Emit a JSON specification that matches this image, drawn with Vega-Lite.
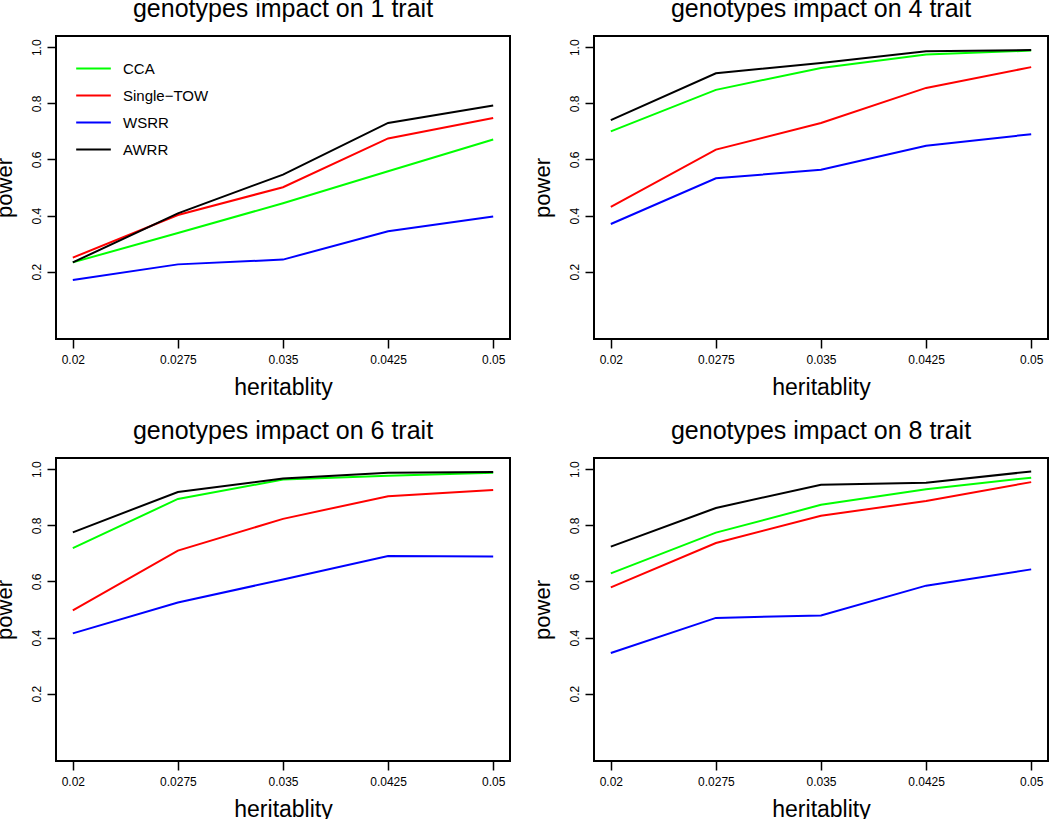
{
  "$schema": "https://vega.github.io/schema/vega-lite/v6.json",
  "padding": {"left": -8, "top": -4, "right": 0, "bottom": 0},
  "background": "white",
  "datasets": {
    "rows": [
      {"t": 1, "m": "CCA", "h": 0.02, "p": 0.233}, {"t": 1, "m": "CCA", "h": 0.0275, "p": 0.338}, {"t": 1, "m": "CCA", "h": 0.035, "p": 0.444}, {"t": 1, "m": "CCA", "h": 0.0425, "p": 0.558}, {"t": 1, "m": "CCA", "h": 0.05, "p": 0.671},
      {"t": 1, "m": "Single−TOW", "h": 0.02, "p": 0.250}, {"t": 1, "m": "Single−TOW", "h": 0.0275, "p": 0.402}, {"t": 1, "m": "Single−TOW", "h": 0.035, "p": 0.501}, {"t": 1, "m": "Single−TOW", "h": 0.0425, "p": 0.675}, {"t": 1, "m": "Single−TOW", "h": 0.05, "p": 0.748},
      {"t": 1, "m": "WSRR", "h": 0.02, "p": 0.170}, {"t": 1, "m": "WSRR", "h": 0.0275, "p": 0.226}, {"t": 1, "m": "WSRR", "h": 0.035, "p": 0.243}, {"t": 1, "m": "WSRR", "h": 0.0425, "p": 0.344}, {"t": 1, "m": "WSRR", "h": 0.05, "p": 0.397},
      {"t": 1, "m": "AWRR", "h": 0.02, "p": 0.233}, {"t": 1, "m": "AWRR", "h": 0.0275, "p": 0.408}, {"t": 1, "m": "AWRR", "h": 0.035, "p": 0.546}, {"t": 1, "m": "AWRR", "h": 0.0425, "p": 0.730}, {"t": 1, "m": "AWRR", "h": 0.05, "p": 0.792},

      {"t": 4, "m": "CCA", "h": 0.02, "p": 0.700}, {"t": 4, "m": "CCA", "h": 0.0275, "p": 0.848}, {"t": 4, "m": "CCA", "h": 0.035, "p": 0.926}, {"t": 4, "m": "CCA", "h": 0.0425, "p": 0.974}, {"t": 4, "m": "CCA", "h": 0.05, "p": 0.988},
      {"t": 4, "m": "Single−TOW", "h": 0.02, "p": 0.431}, {"t": 4, "m": "Single−TOW", "h": 0.0275, "p": 0.635}, {"t": 4, "m": "Single−TOW", "h": 0.035, "p": 0.730}, {"t": 4, "m": "Single−TOW", "h": 0.0425, "p": 0.855}, {"t": 4, "m": "Single−TOW", "h": 0.05, "p": 0.929},
      {"t": 4, "m": "WSRR", "h": 0.02, "p": 0.370}, {"t": 4, "m": "WSRR", "h": 0.0275, "p": 0.533}, {"t": 4, "m": "WSRR", "h": 0.035, "p": 0.563}, {"t": 4, "m": "WSRR", "h": 0.0425, "p": 0.649}, {"t": 4, "m": "WSRR", "h": 0.05, "p": 0.690},
      {"t": 4, "m": "AWRR", "h": 0.02, "p": 0.740}, {"t": 4, "m": "AWRR", "h": 0.0275, "p": 0.907}, {"t": 4, "m": "AWRR", "h": 0.035, "p": 0.944}, {"t": 4, "m": "AWRR", "h": 0.0425, "p": 0.986}, {"t": 4, "m": "AWRR", "h": 0.05, "p": 0.990},

      {"t": 6, "m": "CCA", "h": 0.02, "p": 0.719}, {"t": 6, "m": "CCA", "h": 0.0275, "p": 0.894}, {"t": 6, "m": "CCA", "h": 0.035, "p": 0.963}, {"t": 6, "m": "CCA", "h": 0.0425, "p": 0.977}, {"t": 6, "m": "CCA", "h": 0.05, "p": 0.987},
      {"t": 6, "m": "Single−TOW", "h": 0.02, "p": 0.497}, {"t": 6, "m": "Single−TOW", "h": 0.0275, "p": 0.710}, {"t": 6, "m": "Single−TOW", "h": 0.035, "p": 0.823}, {"t": 6, "m": "Single−TOW", "h": 0.0425, "p": 0.904}, {"t": 6, "m": "Single−TOW", "h": 0.05, "p": 0.926},
      {"t": 6, "m": "WSRR", "h": 0.02, "p": 0.415}, {"t": 6, "m": "WSRR", "h": 0.0275, "p": 0.525}, {"t": 6, "m": "WSRR", "h": 0.035, "p": 0.607}, {"t": 6, "m": "WSRR", "h": 0.0425, "p": 0.691}, {"t": 6, "m": "WSRR", "h": 0.05, "p": 0.689},
      {"t": 6, "m": "AWRR", "h": 0.02, "p": 0.775}, {"t": 6, "m": "AWRR", "h": 0.0275, "p": 0.919}, {"t": 6, "m": "AWRR", "h": 0.035, "p": 0.967}, {"t": 6, "m": "AWRR", "h": 0.0425, "p": 0.987}, {"t": 6, "m": "AWRR", "h": 0.05, "p": 0.990},

      {"t": 8, "m": "CCA", "h": 0.02, "p": 0.629}, {"t": 8, "m": "CCA", "h": 0.0275, "p": 0.774}, {"t": 8, "m": "CCA", "h": 0.035, "p": 0.873}, {"t": 8, "m": "CCA", "h": 0.0425, "p": 0.929}, {"t": 8, "m": "CCA", "h": 0.05, "p": 0.970},
      {"t": 8, "m": "Single−TOW", "h": 0.02, "p": 0.579}, {"t": 8, "m": "Single−TOW", "h": 0.0275, "p": 0.737}, {"t": 8, "m": "Single−TOW", "h": 0.035, "p": 0.834}, {"t": 8, "m": "Single−TOW", "h": 0.0425, "p": 0.887}, {"t": 8, "m": "Single−TOW", "h": 0.05, "p": 0.954},
      {"t": 8, "m": "WSRR", "h": 0.02, "p": 0.345}, {"t": 8, "m": "WSRR", "h": 0.0275, "p": 0.470}, {"t": 8, "m": "WSRR", "h": 0.035, "p": 0.479}, {"t": 8, "m": "WSRR", "h": 0.0425, "p": 0.585}, {"t": 8, "m": "WSRR", "h": 0.05, "p": 0.643},
      {"t": 8, "m": "AWRR", "h": 0.02, "p": 0.724}, {"t": 8, "m": "AWRR", "h": 0.0275, "p": 0.862}, {"t": 8, "m": "AWRR", "h": 0.035, "p": 0.945}, {"t": 8, "m": "AWRR", "h": 0.0425, "p": 0.952}, {"t": 8, "m": "AWRR", "h": 0.05, "p": 0.992}
    ]
  },
  "spacing": 18,
  "resolve": {"scale": {"color": "independent"}, "legend": {"color": "independent"}},
  "vconcat": [
    {
      "spacing": 19,
      "resolve": {"scale": {"color": "independent"}, "legend": {"color": "independent"}},
      "hconcat": [
        {
          "width": 454, "height": 303,
          "title": {"text": "genotypes impact on 1 trait"},
          "data": {"name": "rows"},
          "transform": [{"filter": "datum.t == 1"}],
          "mark": {"type": "line", "strokeWidth": 2},
          "encoding": {
            "x": {"field": "h", "type": "quantitative", "title": "heritablity", "scale": {"domain": [0.0188, 0.0512], "nice": false, "zero": false}, "axis": {"values": [0.02, 0.0275, 0.035, 0.0425, 0.05], "format": ".3~g"}},
            "y": {"field": "p", "type": "quantitative", "title": "power", "scale": {"domain": [-0.04, 1.04], "nice": false, "zero": false}, "axis": {"values": [0.2, 0.4, 0.6, 0.8, 1.0], "format": ".1f"}},
            "color": {"field": "m", "type": "nominal", "scale": {"domain": ["CCA", "Single−TOW", "WSRR", "AWRR"], "range": ["#00ff00", "#ff0000", "#0000ff", "#000000"]},
              "legend": {"orient": "none", "legendX": 19, "legendY": 14, "title": null, "symbolType": "M-1,0H1", "symbolSize": 1200, "symbolStrokeWidth": 2, "labelFontSize": 15, "labelOffset": 11, "rowPadding": -3, "padding": 0, "symbolOffset": 0, "labelColor": "black", "labelFont": "Liberation Sans"}}
          }
        },
        {
          "width": 454, "height": 303,
          "title": {"text": "genotypes impact on 4 trait"},
          "data": {"name": "rows"},
          "transform": [{"filter": "datum.t == 4"}],
          "mark": {"type": "line", "strokeWidth": 2},
          "encoding": {
            "x": {"field": "h", "type": "quantitative", "title": "heritablity", "scale": {"domain": [0.0188, 0.0512], "nice": false, "zero": false}, "axis": {"values": [0.02, 0.0275, 0.035, 0.0425, 0.05], "format": ".3~g"}},
            "y": {"field": "p", "type": "quantitative", "title": "power", "scale": {"domain": [-0.04, 1.04], "nice": false, "zero": false}, "axis": {"values": [0.2, 0.4, 0.6, 0.8, 1.0], "format": ".1f"}},
            "color": {"field": "m", "type": "nominal", "scale": {"domain": ["CCA", "Single−TOW", "WSRR", "AWRR"], "range": ["#00ff00", "#ff0000", "#0000ff", "#000000"]}, "legend": null}
          }
        }
      ]
    },
    {
      "spacing": 19,
      "resolve": {"scale": {"color": "independent"}, "legend": {"color": "independent"}},
      "hconcat": [
        {
          "width": 454, "height": 303,
          "title": {"text": "genotypes impact on 6 trait"},
          "data": {"name": "rows"},
          "transform": [{"filter": "datum.t == 6"}],
          "mark": {"type": "line", "strokeWidth": 2},
          "encoding": {
            "x": {"field": "h", "type": "quantitative", "title": "heritablity", "scale": {"domain": [0.0188, 0.0512], "nice": false, "zero": false}, "axis": {"values": [0.02, 0.0275, 0.035, 0.0425, 0.05], "format": ".3~g"}},
            "y": {"field": "p", "type": "quantitative", "title": "power", "scale": {"domain": [-0.04, 1.04], "nice": false, "zero": false}, "axis": {"values": [0.2, 0.4, 0.6, 0.8, 1.0], "format": ".1f"}},
            "color": {"field": "m", "type": "nominal", "scale": {"domain": ["CCA", "Single−TOW", "WSRR", "AWRR"], "range": ["#00ff00", "#ff0000", "#0000ff", "#000000"]}, "legend": null}
          }
        },
        {
          "width": 454, "height": 303,
          "title": {"text": "genotypes impact on 8 trait"},
          "data": {"name": "rows"},
          "transform": [{"filter": "datum.t == 8"}],
          "mark": {"type": "line", "strokeWidth": 2},
          "encoding": {
            "x": {"field": "h", "type": "quantitative", "title": "heritablity", "scale": {"domain": [0.0188, 0.0512], "nice": false, "zero": false}, "axis": {"values": [0.02, 0.0275, 0.035, 0.0425, 0.05], "format": ".3~g"}},
            "y": {"field": "p", "type": "quantitative", "title": "power", "scale": {"domain": [-0.04, 1.04], "nice": false, "zero": false}, "axis": {"values": [0.2, 0.4, 0.6, 0.8, 1.0], "format": ".1f"}},
            "color": {"field": "m", "type": "nominal", "scale": {"domain": ["CCA", "Single−TOW", "WSRR", "AWRR"], "range": ["#00ff00", "#ff0000", "#0000ff", "#000000"]}, "legend": null}
          }
        }
      ]
    }
  ],
  "config": {
    "font": "Liberation Sans",
    "view": {"stroke": "black", "strokeWidth": 2},
    "title": {"fontSize": 25, "fontWeight": "normal", "font": "Liberation Sans", "color": "black", "baseline": "alphabetic", "offset": 14},
    "axis": {"grid": false, "domain": false, "tickSize": 9, "tickColor": "black", "tickWidth": 1.5, "labelFontSize": 12, "labelColor": "black", "labelFont": "Liberation Sans", "titleFont": "Liberation Sans", "titleFontSize": 23, "titleFontWeight": "normal", "titleColor": "black"},
    "axisX": {"labelPadding": 6, "titlePadding": 11},
    "axisY": {"labelAngle": 270, "labelAlign": "center", "labelBaseline": "bottom", "labelPadding": 4, "titlePadding": 14, "titleFontSize": 22}
  }
}
